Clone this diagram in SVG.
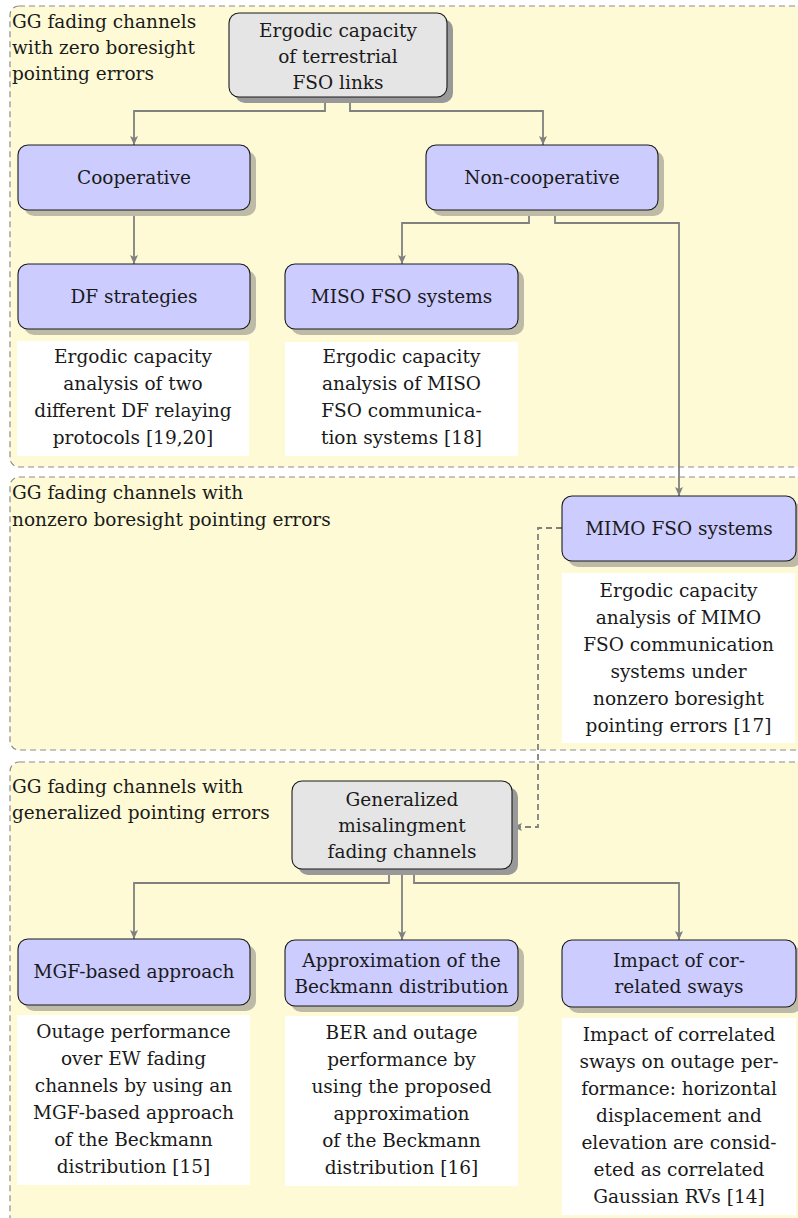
<svg xmlns="http://www.w3.org/2000/svg" width="798" height="1218" viewBox="0 0 798 1218">
<defs>
<style>
.t{font-family:"DejaVu Serif","Liberation Serif",serif;font-size:18.5px;fill:#1a1a1a}
.c{text-anchor:middle}
.panel{fill:#fffad6;stroke:#8c8c8c;stroke-width:1.2;stroke-dasharray:6 4}
.blue{fill:#ccccff;stroke:#1a1a1a;stroke-width:1.1}
.gray{fill:#e5e5e5;stroke:#1a1a1a;stroke-width:1.1}
.sb{fill:#bdbba8}
.sg{fill:#999999}
.box{fill:#ffffff}
.conn{fill:none;stroke:#808080;stroke-width:1.8}
.dash{stroke-dasharray:6 4}
</style>
<marker id="ah" markerUnits="userSpaceOnUse" markerWidth="12" markerHeight="10" refX="9" refY="4" orient="auto">
<path d="M0,0 L9,4 L0,8 L2,4 z" fill="#808080"/>
</marker>
</defs>

<g id="panels">
<rect class="panel" x="10" y="6" width="820" height="461" rx="9"/>
<rect class="panel" x="10" y="477" width="820" height="273" rx="9"/>
<rect class="panel" x="10" y="762" width="820" height="470" rx="9"/>
<text class="t" x="12" y="28">GG fading channels</text>
<text class="t" x="12" y="54">with zero boresight</text>
<text class="t" x="12" y="80">pointing errors</text>
<text class="t" x="12" y="499">GG fading channels with</text>
<text class="t" x="12" y="526">nonzero boresight pointing errors</text>
<text class="t" x="12" y="793">GG fading channels with</text>
<text class="t" x="12" y="819">generalized pointing errors</text>
</g>

<g id="connectors">
<path class="conn" d="M325,97 V111 H134 V145" marker-end="url(#ah)"/>
<path class="conn" d="M350,97 V111 H543 V145" marker-end="url(#ah)"/>
<path class="conn" d="M134,210 V264" marker-end="url(#ah)"/>
<path class="conn" d="M529,210 V223 H402 V264" marker-end="url(#ah)"/>
<path class="conn" d="M555,210 V223 H679 V496" marker-end="url(#ah)"/>
<path class="conn dash" d="M562,528 H538 V827 H513" marker-end="url(#ah)"/>
<path class="conn" d="M389,869 V883 H134 V939" marker-end="url(#ah)"/>
<path class="conn" d="M402,869 V940" marker-end="url(#ah)"/>
<path class="conn" d="M414,869 V883 H679 V940" marker-end="url(#ah)"/>
</g>

<g id="n-ergodic">
<rect class="sg" x="235" y="19" width="218" height="84" rx="10"/>
<rect class="gray" x="229" y="13" width="218" height="84" rx="10"/>
<text class="t c" x="338" y="37">Ergodic capacity</text>
<text class="t c" x="338" y="63">of terrestrial</text>
<text class="t c" x="338" y="89">FSO links</text>
</g>

<g id="n-cooperative">
<rect class="sb" x="24" y="151" width="232" height="65" rx="10"/>
<rect class="blue" x="18" y="145" width="232" height="65" rx="10"/>
<text class="t c" x="134" y="184">Cooperative</text>
</g>

<g id="n-noncooperative">
<rect class="sb" x="432" y="151" width="232" height="65" rx="10"/>
<rect class="blue" x="426" y="145" width="232" height="65" rx="10"/>
<text class="t c" x="542" y="184">Non-cooperative</text>
</g>

<g id="n-df">
<rect class="sb" x="24" y="270" width="232" height="65" rx="10"/>
<rect class="blue" x="18" y="264" width="232" height="65" rx="10"/>
<text class="t c" x="134" y="303">DF strategies</text>
</g>

<g id="n-df-text">
<rect class="box" x="17" y="341" width="232" height="115"/>
<text class="t c" x="133" y="363">Ergodic capacity</text>
<text class="t c" x="133" y="390">analysis of two</text>
<text class="t c" x="133" y="417">different DF relaying</text>
<text class="t c" x="133" y="444">protocols [19,20]</text>
</g>

<g id="n-miso">
<rect class="sb" x="291" y="270" width="233" height="65" rx="10"/>
<rect class="blue" x="285" y="264" width="233" height="65" rx="10"/>
<text class="t c" x="401.5" y="303">MISO FSO systems</text>
</g>

<g id="n-miso-text">
<rect class="box" x="285" y="342" width="233" height="114"/>
<text class="t c" x="401.5" y="363">Ergodic capacity</text>
<text class="t c" x="401.5" y="390">analysis of MISO</text>
<text class="t c" x="401.5" y="417">FSO communica-</text>
<text class="t c" x="401.5" y="444">tion systems [18]</text>
</g>

<g id="n-mimo">
<rect class="sb" x="568" y="502" width="234" height="65" rx="10"/>
<rect class="blue" x="562" y="496" width="234" height="65" rx="10"/>
<text class="t c" x="679" y="535">MIMO FSO systems</text>
</g>

<g id="n-mimo-text">
<rect class="box" x="562" y="573" width="233" height="170"/>
<text class="t c" x="678.5" y="597">Ergodic capacity</text>
<text class="t c" x="678.5" y="624">analysis of MIMO</text>
<text class="t c" x="678.5" y="651">FSO communication</text>
<text class="t c" x="678.5" y="678">systems under</text>
<text class="t c" x="678.5" y="705">nonzero boresight</text>
<text class="t c" x="678.5" y="732">pointing errors [17]</text>
</g>

<g id="n-generalized">
<rect class="sg" x="298" y="787" width="220" height="88" rx="10"/>
<rect class="gray" x="292" y="781" width="220" height="88" rx="10"/>
<text class="t c" x="402" y="806">Generalized</text>
<text class="t c" x="402" y="832">misalingment</text>
<text class="t c" x="402" y="858">fading channels</text>
</g>

<g id="n-mgf">
<rect class="sb" x="24" y="945" width="232" height="66" rx="10"/>
<rect class="blue" x="18" y="939" width="232" height="66" rx="10"/>
<text class="t c" x="134" y="978">MGF-based approach</text>
</g>

<g id="n-mgf-text">
<rect class="box" x="17" y="1015" width="233" height="170"/>
<text class="t c" x="133.5" y="1038">Outage performance</text>
<text class="t c" x="133.5" y="1065">over EW fading</text>
<text class="t c" x="133.5" y="1092">channels by using an</text>
<text class="t c" x="133.5" y="1119">MGF-based approach</text>
<text class="t c" x="133.5" y="1146">of the Beckmann</text>
<text class="t c" x="133.5" y="1173">distribution [15]</text>
</g>

<g id="n-approx">
<rect class="sb" x="291" y="946" width="233" height="66" rx="10"/>
<rect class="blue" x="285" y="940" width="233" height="66" rx="10"/>
<text class="t c" x="401.5" y="967">Approximation of the</text>
<text class="t c" x="401.5" y="993">Beckmann distribution</text>
</g>

<g id="n-approx-text">
<rect class="box" x="285" y="1016" width="233" height="170"/>
<text class="t c" x="401.5" y="1039">BER and outage</text>
<text class="t c" x="401.5" y="1066">performance by</text>
<text class="t c" x="401.5" y="1093">using the proposed</text>
<text class="t c" x="401.5" y="1120">approximation</text>
<text class="t c" x="401.5" y="1147">of the Beckmann</text>
<text class="t c" x="401.5" y="1174">distribution [16]</text>
</g>

<g id="n-impact">
<rect class="sb" x="568" y="946" width="234" height="67" rx="10"/>
<rect class="blue" x="562" y="940" width="234" height="67" rx="10"/>
<text class="t c" x="679" y="967">Impact of cor-</text>
<text class="t c" x="679" y="993">related sways</text>
</g>

<g id="n-impact-text">
<rect class="box" x="562" y="1018" width="234" height="197"/>
<text class="t c" x="679" y="1041">Impact of correlated</text>
<text class="t c" x="679" y="1068">sways on outage per-</text>
<text class="t c" x="679" y="1095">formance: horizontal</text>
<text class="t c" x="679" y="1122">displacement and</text>
<text class="t c" x="679" y="1149">elevation are consid-</text>
<text class="t c" x="679" y="1176">eted as correlated</text>
<text class="t c" x="679" y="1203">Gaussian RVs [14]</text>
</g>
</svg>
